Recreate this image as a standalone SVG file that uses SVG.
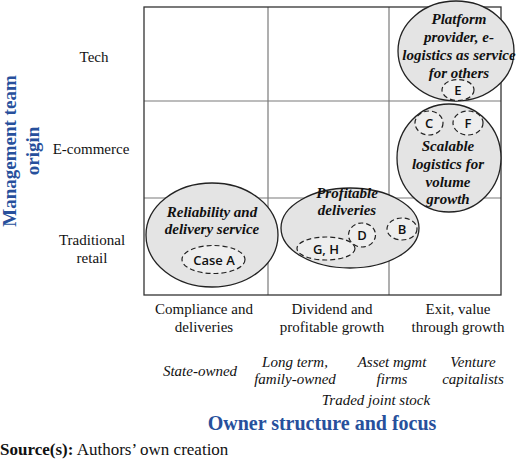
<svg xmlns="http://www.w3.org/2000/svg" width="520" height="461" viewBox="0 0 520 461">
<style>
.grid{fill:none;stroke:#7a7a7a;stroke-width:1.2}
.frame{fill:none;stroke:#333;stroke-width:1.3}
.big{fill:#e4e4e4;stroke:#222;stroke-width:1.3}
.case{fill:#eeeeee;stroke:#222;stroke-width:1.2;stroke-dasharray:5,3}
.lab{font-family:"Liberation Serif",serif;font-size:15px;fill:#111;text-anchor:middle}
.own{font-family:"Liberation Serif",serif;font-size:15px;font-style:italic;fill:#111;text-anchor:middle}
.bi{font-family:"Liberation Serif",serif;font-size:15px;font-style:italic;font-weight:bold;fill:#111;text-anchor:middle}
.cl{font-family:"Open Sans","Liberation Sans",sans-serif;font-size:13px;font-weight:600;fill:#111;text-anchor:middle}
.axis{font-family:"Liberation Serif",serif;font-weight:bold;fill:#27509c;text-anchor:middle}
</style>
<rect width="520" height="461" fill="#fff"/>
<g id="grid">
<line class="grid" x1="268" y1="7" x2="268" y2="295"/>
<line class="grid" x1="389" y1="7" x2="389" y2="295"/>
<line class="grid" x1="144" y1="101" x2="501" y2="101"/>
<line class="grid" x1="144" y1="198" x2="501" y2="198"/>
<rect class="frame" x="144" y="7" width="357" height="288"/>
</g>
<g id="connectors"></g>
<g id="reliability">
<ellipse class="big" cx="212" cy="235" rx="66" ry="52"/>
<text class="bi" x="212" y="217">Reliability and</text>
<text class="bi" x="212" y="234">delivery service</text>
<ellipse class="case" cx="213.5" cy="259.5" rx="31.5" ry="14"/>
<text class="cl" x="214" y="265">Case A</text>
</g>
<g id="profitable">
<ellipse class="big" cx="350" cy="228" rx="69" ry="40"/>
<text class="bi" x="347" y="198">Profitable</text>
<text class="bi" x="347" y="215">deliveries</text>
<ellipse class="case" cx="326" cy="248.5" rx="29" ry="11.5"/>
<text class="cl" x="326" y="253.5">G, H</text>
<ellipse class="case" cx="362" cy="235" rx="13.5" ry="12"/>
<text class="cl" x="362" y="240">D</text>
<ellipse class="case" cx="402" cy="229" rx="15" ry="11"/>
<text class="cl" x="402" y="234">B</text>
</g>
<g id="scalable">
<ellipse class="big" cx="449" cy="158" rx="52" ry="54"/>
<ellipse class="case" cx="429" cy="123" rx="14" ry="12"/>
<text class="cl" x="429" y="128">C</text>
<ellipse class="case" cx="468" cy="123" rx="15" ry="12"/>
<text class="cl" x="468" y="128">F</text>
<text class="bi" x="448" y="151">Scalable</text>
<text class="bi" x="448" y="169">logistics for</text>
<text class="bi" x="448" y="187">volume</text>
<text class="bi" x="448" y="204">growth</text>
</g>
<g id="platform">
<ellipse class="big" cx="456" cy="51" rx="58" ry="50"/>
<text class="bi" x="459" y="24">Platform</text>
<text class="bi" x="459" y="42">provider, e-</text>
<text class="bi" x="459" y="60">logistics as service</text>
<text class="bi" x="459" y="78">for others</text>
<ellipse class="case" cx="458" cy="90" rx="16" ry="10.5"/>
<text class="cl" x="458" y="95">E</text>
</g>
<g id="row-labels">
<text class="lab" x="94" y="62">Tech</text>
<text class="lab" x="91" y="154">E-commerce</text>
<text class="lab" x="92" y="245">Traditional</text>
<text class="lab" x="92" y="263">retail</text>
</g>
<g id="col-labels">
<text class="lab" x="204" y="314">Compliance and</text>
<text class="lab" x="204" y="332">deliveries</text>
<text class="lab" x="332" y="314">Dividend and</text>
<text class="lab" x="332" y="332">profitable growth</text>
<text class="lab" x="458" y="314">Exit, value</text>
<text class="lab" x="458" y="332">through growth</text>
</g>
<g id="owners">
<text class="own" x="200" y="376">State-owned</text>
<text class="own" x="295" y="367">Long term,</text>
<text class="own" x="295" y="384">family-owned</text>
<text class="own" x="392" y="367">Asset mgmt</text>
<text class="own" x="392" y="384">firms</text>
<text class="own" x="473" y="367">Venture</text>
<text class="own" x="473" y="384">capitalists</text>
<text class="own" x="376" y="405">Traded joint stock</text>
</g>
<g id="axis-titles">
<text class="axis" font-size="19" transform="translate(16,151) rotate(-90)">Management team</text>
<text class="axis" font-size="19" transform="translate(39,151) rotate(-90)">origin</text>
<text class="axis" font-size="20" x="322" y="430">Owner structure and focus</text>
</g>
<g id="source">
<text x="0" y="455" font-family="'Liberation Serif',serif" font-size="17" fill="#111"><tspan font-weight="bold">Source(s):</tspan> Authors’ own creation</text>
</g>
</svg>
